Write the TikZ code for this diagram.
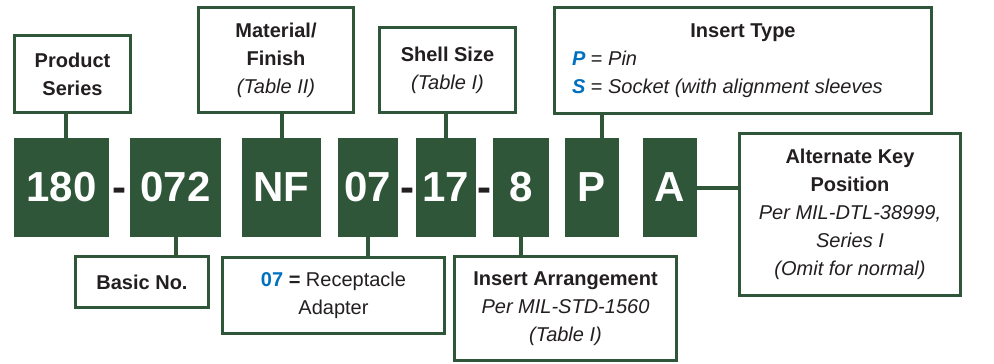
\documentclass[tikz,border=0pt]{standalone}
\usepackage{fontspec}
\setmainfont{Liberation Sans}
\usetikzlibrary{calc}
\definecolor{VGreen}{HTML}{2F5639}
\definecolor{VBlue}{HTML}{0070C0}
\definecolor{VInk}{HTML}{231F20}
\tikzset{
    code/.style = {fill=VGreen, text=white, inner sep=0pt,
        minimum height=99, font=\fontsize{42}{42}\selectfont\bfseries},
    info/.style = {draw=VGreen, line width=3.2pt, fill=white, inner sep=0pt,
        text=VInk, align=center, font=\fontsize{20}{28}\selectfont},
    link/.style = {draw=VGreen, line width=4pt},
    hyph/.style = {inner sep=0pt, text=VInk, anchor=base,
        font=\fontsize{42}{42}\selectfont\bfseries}
}
\begin{document}
\begin{tikzpicture}[x=1pt,y=-1pt]
  \useasboundingbox (0,0) rectangle (994,364);
  % part number
  \foreach \cx/\w/\t/\n in {61.5/95/180/c180, 175.5/91/072/c072, 281.5/79/NF/cNF,
      368/60/07/c07, 446/60/17/c17, 521/56/8/c8, 592/54/P/cP, 670/54/A/cA}{
    \node[code, minimum width=\w] (\n) at (\cx,187.5) {\t};
  };
  \node[hyph] (h1) at ($(c180.base east)!0.5!(c072.base west)$) {-};
  \node[hyph] (h2) at ($(c07.base east)!0.5!(c17.base west)$) {-};
  \node[hyph] (h3) at ($(c17.base east)!0.5!(c8.base west)$) {-};
  % upper boxes
  \node[info, minimum width=115.8, minimum height=76.8] (ser) at (72.5,74)
    {\textbf{Product}\\\textbf{Series}};
  \node[info, minimum width=154.8, minimum height=104.8] (mat) at (276,60)
    {\textbf{Material/}\\\textbf{Finish}\\\textit{(Table II)}};
  \node[info, minimum width=135.8, minimum height=84.8] (shl) at (447.5,70)
    {\textbf{Shell Size}\\\textit{(Table I)}};
  \node[info, minimum width=376.8, minimum height=105.8] (typ) at (743,60.5)
    {\textbf{Insert Type}\\
     \makebox[342pt][l]{\textcolor{VBlue}{\textbf{\textit{P}}} = \textit{Pin}}\\
     \makebox[342pt][l]{\textcolor{VBlue}{\textbf{\textit{S}}} = \textit{Socket (with alignment sleeves}}};
  % lower boxes
  \node[info, minimum width=132.8, minimum height=50.8] (bas) at (142,282)
    {\textbf{Basic No.}};
  \node[info, minimum width=221.8, minimum height=75.8] (rec) at (333.5,295.5)
    {\textcolor{VBlue}{\textbf{07}} \textbf{=} Receptacle\\Adapter};
  \node[info, minimum width=221.8, minimum height=103.8] (arr) at (565.5,308.5)
    {\textbf{Insert Arrangement}\\\textit{Per MIL-STD-1560}\\\textit{(Table I)}};
  \node[info, minimum width=220.8, minimum height=161.8] (alt) at (850,214.5)
    {\textbf{Alternate Key}\\\textbf{Position}\\\textit{Per MIL-DTL-38999,}\\
     \textit{Series I}\\\textit{(Omit for normal)}};
  % connectors
  \draw[link] ([xshift=4.5pt]c180.north) -- ([xshift=4.5pt]c180.north |- ser.south);
  \draw[link] (cNF.north) -- (cNF.north |- mat.south);
  \draw[link] (c17.north) -- (c17.north |- shl.south);
  \draw[link] ([xshift=10pt]cP.north) -- ([xshift=10pt]cP.north |- typ.south);
  \draw[link] (c072.south) -- (c072.south |- bas.north);
  \draw[link] (c07.south) -- (c07.south |- rec.north);
  \draw[link] (c8.south) -- (c8.south |- arr.north);
  \draw[link] (cA.east) -- (cA.east -| alt.west);
\end{tikzpicture}
\end{document}
